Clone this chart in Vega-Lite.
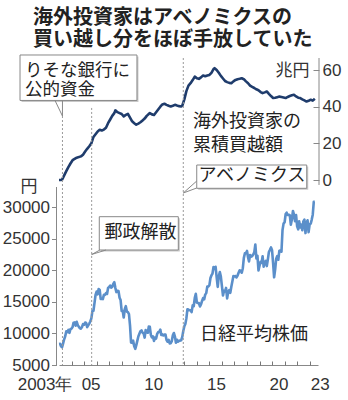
{
  "$schema": "https://vega.github.io/schema/vega-lite/v6.json",
  "width": 259,
  "height": 307,
  "autosize": {"type": "none"},
  "padding": {"left": 59, "top": 58, "right": 30, "bottom": 35},
  "background": "white",
  "data": {"values": [{}]},
  "config": {
    "view": {"stroke": null},
    "font": "Noto Sans CJK JP",
    "axis": {"grid": false, "labelFont": "Liberation Sans", "titleFont": "Noto Sans CJK JP"},
    "axisX": {"labelOverlap": false, "labelFlush": false, "labelBound": false}
  },
  "title": {
    "text": ["海外投資家はアベノミクスの", "買い越し分をほぼ手放していた"],
    "anchor": "start",
    "frame": "group",
    "font": "Noto Sans CJK JP",
    "fontSize": 20,
    "fontWeight": "bold",
    "lineHeight": 22.5,
    "color": "#222",
    "dx": -26,
    "offset": 4
  },
  "datasets": {
    "nikkei": [
      {"date":"2003-01-01","value":8340},{"date":"2003-02-01","value":8360},{"date":"2003-03-01","value":7970},{"date":"2003-04-01","value":7830},{"date":"2003-05-01","value":8420},{"date":"2003-06-01","value":9080},{"date":"2003-07-01","value":9560},{"date":"2003-08-01","value":10340},{"date":"2003-09-01","value":10220},{"date":"2003-10-01","value":10560},{"date":"2003-11-01","value":10100},{"date":"2003-12-01","value":10680},
      {"date":"2004-01-01","value":10780},{"date":"2004-02-01","value":11040},{"date":"2004-03-01","value":11720},{"date":"2004-04-01","value":11760},{"date":"2004-05-01","value":11240},{"date":"2004-06-01","value":11860},{"date":"2004-07-01","value":11330},{"date":"2004-08-01","value":11080},{"date":"2004-09-01","value":10820},{"date":"2004-10-01","value":10770},{"date":"2004-11-01","value":11030},{"date":"2004-12-01","value":11490},
      {"date":"2005-01-01","value":11390},{"date":"2005-02-01","value":11740},{"date":"2005-03-01","value":11670},{"date":"2005-04-01","value":11010},{"date":"2005-05-01","value":11280},{"date":"2005-06-01","value":11580},{"date":"2005-07-01","value":11900},{"date":"2005-08-01","value":12410},{"date":"2005-09-01","value":13570},{"date":"2005-10-01","value":13610},{"date":"2005-11-01","value":14870},{"date":"2005-12-01","value":16110},
      {"date":"2006-01-01","value":16650},{"date":"2006-02-01","value":16210},{"date":"2006-03-01","value":17060},{"date":"2006-04-01","value":16910},{"date":"2006-05-01","value":15470},{"date":"2006-06-01","value":15510},{"date":"2006-07-01","value":15460},{"date":"2006-08-01","value":16140},{"date":"2006-09-01","value":16130},{"date":"2006-10-01","value":16400},{"date":"2006-11-01","value":16270},{"date":"2006-12-01","value":17230},
      {"date":"2007-01-01","value":17380},{"date":"2007-02-01","value":17600},{"date":"2007-03-01","value":17290},{"date":"2007-04-01","value":17400},{"date":"2007-05-01","value":17880},{"date":"2007-06-01","value":18140},{"date":"2007-07-01","value":17250},{"date":"2007-08-01","value":16570},{"date":"2007-09-01","value":16790},{"date":"2007-10-01","value":16740},{"date":"2007-11-01","value":15680},{"date":"2007-12-01","value":15310},
      {"date":"2008-01-01","value":13590},{"date":"2008-02-01","value":13600},{"date":"2008-03-01","value":12530},{"date":"2008-04-01","value":13850},{"date":"2008-05-01","value":14340},{"date":"2008-06-01","value":13480},{"date":"2008-07-01","value":13380},{"date":"2008-08-01","value":13070},{"date":"2008-09-01","value":11260},{"date":"2008-10-01","value":8580},{"date":"2008-11-01","value":8510},{"date":"2008-12-01","value":8860},
      {"date":"2009-01-01","value":7990},{"date":"2009-02-01","value":7570},{"date":"2009-03-01","value":8110},{"date":"2009-04-01","value":8830},{"date":"2009-05-01","value":9520},{"date":"2009-06-01","value":9960},{"date":"2009-07-01","value":10360},{"date":"2009-08-01","value":10490},{"date":"2009-09-01","value":10130},{"date":"2009-10-01","value":10030},{"date":"2009-11-01","value":9350},{"date":"2009-12-01","value":10550},
      {"date":"2010-01-01","value":10200},{"date":"2010-02-01","value":10130},{"date":"2010-03-01","value":11090},{"date":"2010-04-01","value":11060},{"date":"2010-05-01","value":9770},{"date":"2010-06-01","value":9380},{"date":"2010-07-01","value":9540},{"date":"2010-08-01","value":8820},{"date":"2010-09-01","value":9370},{"date":"2010-10-01","value":9200},{"date":"2010-11-01","value":9940},{"date":"2010-12-01","value":10230},
      {"date":"2011-01-01","value":10240},{"date":"2011-02-01","value":10620},{"date":"2011-03-01","value":9760},{"date":"2011-04-01","value":9850},{"date":"2011-05-01","value":9690},{"date":"2011-06-01","value":9820},{"date":"2011-07-01","value":9830},{"date":"2011-08-01","value":8950},{"date":"2011-09-01","value":8700},{"date":"2011-10-01","value":8990},{"date":"2011-11-01","value":8430},{"date":"2011-12-01","value":8460},
      {"date":"2012-01-01","value":8800},{"date":"2012-02-01","value":9720},{"date":"2012-03-01","value":10080},{"date":"2012-04-01","value":9520},{"date":"2012-05-01","value":8540},{"date":"2012-06-01","value":9010},{"date":"2012-07-01","value":8700},{"date":"2012-08-01","value":8840},{"date":"2012-09-01","value":8870},{"date":"2012-10-01","value":8930},{"date":"2012-11-01","value":9450},{"date":"2012-12-01","value":10400},
      {"date":"2013-01-01","value":11140},{"date":"2013-02-01","value":11560},{"date":"2013-03-01","value":12400},{"date":"2013-04-01","value":13860},{"date":"2013-05-01","value":13770},{"date":"2013-06-01","value":13680},{"date":"2013-07-01","value":13670},{"date":"2013-08-01","value":13390},{"date":"2013-09-01","value":14460},{"date":"2013-10-01","value":14330},{"date":"2013-11-01","value":15660},{"date":"2013-12-01","value":16290},
      {"date":"2014-01-01","value":14910},{"date":"2014-02-01","value":14840},{"date":"2014-03-01","value":14830},{"date":"2014-04-01","value":14300},{"date":"2014-05-01","value":14630},{"date":"2014-06-01","value":15160},{"date":"2014-07-01","value":15620},{"date":"2014-08-01","value":15420},{"date":"2014-09-01","value":16170},{"date":"2014-10-01","value":16410},{"date":"2014-11-01","value":17460},{"date":"2014-12-01","value":17450},
      {"date":"2015-01-01","value":17670},{"date":"2015-02-01","value":18800},{"date":"2015-03-01","value":19210},{"date":"2015-04-01","value":19520},{"date":"2015-05-01","value":20560},{"date":"2015-06-01","value":20240},{"date":"2015-07-01","value":20590},{"date":"2015-08-01","value":18890},{"date":"2015-09-01","value":17390},{"date":"2015-10-01","value":19080},{"date":"2015-11-01","value":19750},{"date":"2015-12-01","value":19030},
      {"date":"2016-01-01","value":17520},{"date":"2016-02-01","value":16030},{"date":"2016-03-01","value":16760},{"date":"2016-04-01","value":16670},{"date":"2016-05-01","value":17230},{"date":"2016-06-01","value":15580},{"date":"2016-07-01","value":16570},{"date":"2016-08-01","value":16890},{"date":"2016-09-01","value":16450},{"date":"2016-10-01","value":17430},{"date":"2016-11-01","value":18310},{"date":"2016-12-01","value":19110},
      {"date":"2017-01-01","value":19040},{"date":"2017-02-01","value":19120},{"date":"2017-03-01","value":18910},{"date":"2017-04-01","value":19200},{"date":"2017-05-01","value":19650},{"date":"2017-06-01","value":20030},{"date":"2017-07-01","value":19930},{"date":"2017-08-01","value":19650},{"date":"2017-09-01","value":20360},{"date":"2017-10-01","value":22010},{"date":"2017-11-01","value":22720},{"date":"2017-12-01","value":22760},
      {"date":"2018-01-01","value":23100},{"date":"2018-02-01","value":22070},{"date":"2018-03-01","value":21450},{"date":"2018-04-01","value":22470},{"date":"2018-05-01","value":22200},{"date":"2018-06-01","value":22300},{"date":"2018-07-01","value":22550},{"date":"2018-08-01","value":22870},{"date":"2018-09-01","value":24120},{"date":"2018-10-01","value":21920},{"date":"2018-11-01","value":22350},{"date":"2018-12-01","value":20010},
      {"date":"2019-01-01","value":20770},{"date":"2019-02-01","value":21390},{"date":"2019-03-01","value":21210},{"date":"2019-04-01","value":22260},{"date":"2019-05-01","value":20600},{"date":"2019-06-01","value":21280},{"date":"2019-07-01","value":21520},{"date":"2019-08-01","value":20700},{"date":"2019-09-01","value":21760},{"date":"2019-10-01","value":22930},{"date":"2019-11-01","value":23290},{"date":"2019-12-01","value":23660},
      {"date":"2020-01-01","value":23210},{"date":"2020-02-01","value":21140},{"date":"2020-03-01","value":18920},{"date":"2020-04-01","value":20190},{"date":"2020-05-01","value":21880},{"date":"2020-06-01","value":22290},{"date":"2020-07-01","value":21710},{"date":"2020-08-01","value":23140},{"date":"2020-09-01","value":23190},{"date":"2020-10-01","value":22980},{"date":"2020-11-01","value":26430},{"date":"2020-12-01","value":27440},
      {"date":"2021-01-01","value":27660},{"date":"2021-02-01","value":28970},{"date":"2021-03-01","value":29180},{"date":"2021-04-01","value":28810},{"date":"2021-05-01","value":28860},{"date":"2021-06-01","value":28790},{"date":"2021-07-01","value":27280},{"date":"2021-08-01","value":28090},{"date":"2021-09-01","value":29450},{"date":"2021-10-01","value":28890},{"date":"2021-11-01","value":27820},{"date":"2021-12-01","value":28790},
      {"date":"2022-01-01","value":27000},{"date":"2022-02-01","value":26530},{"date":"2022-03-01","value":27820},{"date":"2022-04-01","value":26850},{"date":"2022-05-01","value":27280},{"date":"2022-06-01","value":26390},{"date":"2022-07-01","value":27800},{"date":"2022-08-01","value":28090},{"date":"2022-09-01","value":25940},{"date":"2022-10-01","value":27590},{"date":"2022-11-01","value":27970},{"date":"2022-12-01","value":26090},
      {"date":"2023-01-01","value":27330},{"date":"2023-02-01","value":27450},{"date":"2023-03-01","value":28040},{"date":"2023-04-01","value":28860},{"date":"2023-05-01","value":30890},{"date":"2023-06-01","value":30900}
    ],
    "foreign": [
      {"date":"2003-01-01","value":0},{"date":"2003-03-01","value":0},{"date":"2003-04-01","value":0.2},{"date":"2003-06-01","value":2.5},{"date":"2003-08-01","value":4.8},{"date":"2003-10-01","value":7},{"date":"2003-12-01","value":9},
      {"date":"2004-02-01","value":10.8},{"date":"2004-04-01","value":11.5},{"date":"2004-06-01","value":12.2},{"date":"2004-08-01","value":12.5},{"date":"2004-10-01","value":12.9},{"date":"2004-12-01","value":13.8},
      {"date":"2005-02-01","value":15.5},{"date":"2005-04-01","value":17},{"date":"2005-06-01","value":18.4},{"date":"2005-08-01","value":20},{"date":"2005-10-01","value":23.5},{"date":"2005-12-01","value":25},
      {"date":"2006-02-01","value":26.5},{"date":"2006-04-01","value":27.4},{"date":"2006-06-01","value":27},{"date":"2006-08-01","value":27.5},{"date":"2006-10-01","value":28.5},{"date":"2006-12-01","value":31},
      {"date":"2007-02-01","value":33},{"date":"2007-04-01","value":35},{"date":"2007-06-01","value":36.5},{"date":"2007-07-01","value":38},{"date":"2007-09-01","value":37},{"date":"2007-11-01","value":36.5},
      {"date":"2008-01-01","value":36},{"date":"2008-03-01","value":34.7},{"date":"2008-05-01","value":35.5},{"date":"2008-07-01","value":36.1},{"date":"2008-09-01","value":34},{"date":"2008-11-01","value":32},
      {"date":"2009-01-01","value":31},{"date":"2009-03-01","value":30.2},{"date":"2009-05-01","value":30.8},{"date":"2009-07-01","value":31.5},{"date":"2009-09-01","value":32.5},{"date":"2009-11-01","value":33.5},
      {"date":"2010-01-01","value":35},{"date":"2010-03-01","value":36},{"date":"2010-04-01","value":36.5},{"date":"2010-06-01","value":35.8},{"date":"2010-08-01","value":35.5},{"date":"2010-10-01","value":37},{"date":"2010-12-01","value":38.5},
      {"date":"2011-02-01","value":40},{"date":"2011-04-01","value":41.2},{"date":"2011-06-01","value":41.6},{"date":"2011-08-01","value":41},{"date":"2011-10-01","value":40.5},{"date":"2011-12-01","value":40.1},
      {"date":"2012-02-01","value":40.5},{"date":"2012-04-01","value":41},{"date":"2012-06-01","value":40.6},{"date":"2012-08-01","value":40.3},{"date":"2012-10-01","value":40.1},{"date":"2012-11-01","value":40.5},
      {"date":"2013-01-01","value":44},{"date":"2013-03-01","value":48.5},{"date":"2013-05-01","value":51.5},{"date":"2013-07-01","value":52.8},{"date":"2013-09-01","value":54.5},{"date":"2013-11-01","value":56.4},
      {"date":"2014-01-01","value":55.5},{"date":"2014-03-01","value":55.2},{"date":"2014-05-01","value":56},{"date":"2014-07-01","value":57},{"date":"2014-09-01","value":56.6},{"date":"2014-11-01","value":57},
      {"date":"2015-01-01","value":57.3},{"date":"2015-03-01","value":58.5},{"date":"2015-05-01","value":60.5},{"date":"2015-06-01","value":61},{"date":"2015-08-01","value":60},{"date":"2015-10-01","value":58.5},{"date":"2015-12-01","value":56.8},
      {"date":"2016-02-01","value":55.4},{"date":"2016-04-01","value":54},{"date":"2016-06-01","value":53.4},{"date":"2016-08-01","value":53},{"date":"2016-10-01","value":52.8},{"date":"2016-12-01","value":53.8},
      {"date":"2017-02-01","value":54.6},{"date":"2017-04-01","value":55},{"date":"2017-06-01","value":55.2},{"date":"2017-08-01","value":55.5},{"date":"2017-10-01","value":55},{"date":"2017-12-01","value":53.8},
      {"date":"2018-02-01","value":52.8},{"date":"2018-04-01","value":51.5},{"date":"2018-06-01","value":50.8},{"date":"2018-08-01","value":50.2},{"date":"2018-10-01","value":49.5},{"date":"2018-12-01","value":49},
      {"date":"2019-02-01","value":48},{"date":"2019-04-01","value":47.4},{"date":"2019-06-01","value":47.8},{"date":"2019-08-01","value":48.3},{"date":"2019-10-01","value":47},{"date":"2019-12-01","value":45.8},
      {"date":"2020-02-01","value":44.7},{"date":"2020-04-01","value":44.9},{"date":"2020-06-01","value":45.2},{"date":"2020-08-01","value":45.5},{"date":"2020-10-01","value":45.3},{"date":"2020-12-01","value":45},
      {"date":"2021-02-01","value":44.7},{"date":"2021-04-01","value":45.3},{"date":"2021-06-01","value":45.8},{"date":"2021-08-01","value":46.2},{"date":"2021-10-01","value":46.5},{"date":"2021-12-01","value":45.6},
      {"date":"2022-02-01","value":44.9},{"date":"2022-04-01","value":44.7},{"date":"2022-06-01","value":44},{"date":"2022-08-01","value":43.4},{"date":"2022-10-01","value":42.8},{"date":"2022-12-01","value":43.2},
      {"date":"2023-02-01","value":43.8},{"date":"2023-04-01","value":43.3},{"date":"2023-06-01","value":44.3}
    ]
  },
  "layer": [
    {
      "data": {"name": "nikkei"},
      "mark": {"type": "line", "color": "#5b8fca", "strokeWidth": 2.6, "strokeJoin": "round"},
      "encoding": {
        "x": {
          "field": "date", "type": "temporal",
          "scale": {"domain": [{"year": 2003, "month": 1, "date": 1}, {"year": 2023, "month": 9, "date": 1}]},
          "axis": {
            "orient": "bottom",
            "title": null,
            "values": [{"year":2003},{"year":2005},{"year":2010},{"year":2015},{"year":2020},{"year":2023}],
            "labelExpr": "year(datum.value) == 2003 ? '2003年' : timeFormat(datum.value, '%y')",
            "labelAlign": {"condition": {"test": "year(datum.value) == 2003", "value": "right"}, "value": "center"},
            "labelOffset": {"condition": [{"test": "year(datum.value) == 2003", "value": 13}, {"test": "year(datum.value) == 2023", "value": 10}], "value": 6.5},
            "labelFlush": false,
            "labelOverlap": false,
            "labelBound": false,
            "labelFontSize": 17,
            "labelColor": "#333",
            "labelPadding": 11,
            "labelBaseline": "top",
            "ticks": false,
            "domainColor": "#888",
            "grid": false
          }
        },
        "y": {
          "field": "value", "type": "quantitative",
          "scale": {"domain": [5000, 53730]},
          "axis": {
            "orient": "left",
            "values": [5000, 10000, 15000, 20000, 25000, 30000],
            "format": "d",
            "domain": false,
            "tickSize": 5,
            "tickColor": "#888",
            "labelFontSize": 17,
            "labelColor": "#333",
            "labelPadding": 2,
            "offset": 2.5,
            "grid": false,
            "title": "円",
            "titleAngle": 0,
            "titleX": -28,
            "titleY": 128,
            "titleAlign": "center",
            "titleBaseline": "middle",
            "titleFontSize": 17,
            "titleFontWeight": "normal",
            "titleColor": "#333"
          }
        }
      }
    },
    {
      "data": {"name": "foreign"},
      "mark": {"type": "line", "color": "#1f3c6c", "strokeWidth": 2.6, "strokeJoin": "round"},
      "encoding": {
        "x": {
          "field": "date", "type": "temporal",
          "axis": {
            "orient": "bottom",
            "title": null,
            "values": [{"year":2004},{"year":2005},{"year":2006},{"year":2007},{"year":2008},{"year":2009},{"year":2010},{"year":2011},{"year":2012},{"year":2013},{"year":2014},{"year":2015},{"year":2016},{"year":2017},{"year":2018},{"year":2019},{"year":2020},{"year":2021},{"year":2022},{"year":2023}],
            "labels": false,
            "domain": false,
            "ticks": true,
            "tickSize": -4,
            "tickColor": "#777",
            "tickWidth": 1,
            "grid": false
          }
        },
        "y": {
          "field": "value", "type": "quantitative",
          "scale": {"domain": [-100.93, 66.56]},
          "axis": {
            "orient": "right",
            "values": [0, 20, 40, 60],
            "domain": false,
            "tickSize": -6,
            "tickColor": "#888",
            "labelFontSize": 17,
            "labelColor": "#333",
            "labelPadding": 9,
            "offset": 1,
            "grid": false,
            "title": "兆円",
            "titleAngle": 0,
            "titleX": -27,
            "titleY": 12,
            "titleAlign": "center",
            "titleBaseline": "middle",
            "titleFontSize": 17,
            "titleFontWeight": "normal",
            "titleColor": "#333"
          }
        }
      }
    },
    {
      "mark": {"type": "rule", "color": "#999", "strokeDash": [2, 2], "strokeWidth": 1},
      "encoding": {
        "x": {"datum": {"year": 2003, "month": 4, "date": 12}, "type": "temporal", "axis": null},
        "y": {"datum": 34.9, "type": "quantitative", "scale": {"domain": [-100.93, 66.56]}, "axis": null},
        "y2": {"datum": -100.93}
      }
    },
    {
      "mark": {"type": "rule", "color": "#999", "strokeDash": [2, 2], "strokeWidth": 1},
      "encoding": {
        "x": {"datum": {"year": 2005, "month": 8, "date": 10}, "type": "temporal", "axis": null},
        "y": {"datum": 39.3, "type": "quantitative", "scale": {"domain": [-100.93, 66.56]}, "axis": null},
        "y2": {"datum": -100.93}
      }
    },
    {
      "mark": {"type": "rule", "color": "#999", "strokeDash": [2, 2], "strokeWidth": 1},
      "encoding": {
        "x": {"datum": {"year": 2012, "month": 12, "date": 1}, "type": "temporal", "axis": null},
        "y": {"datum": 66.56, "type": "quantitative", "scale": {"domain": [-100.93, 66.56]}, "axis": null},
        "y2": {"datum": -100.93}
      }
    },
    {
      "mark": {"type": "rule", "color": "#888", "strokeWidth": 1, "xOffset": -2.5},
      "encoding": {
        "x": {"datum": {"year": 2003, "month": 1, "date": 1}, "type": "temporal", "axis": null},
        "y": {"datum": 5000, "type": "quantitative", "scale": {"domain": [5000, 53730]}, "axis": null},
        "y2": {"datum": 33254}
      }
    },
    {
      "mark": {"type": "rule", "color": "#888", "strokeWidth": 1, "xOffset": 1},
      "encoding": {
        "x": {"datum": {"year": 2023, "month": 9, "date": 1}, "type": "temporal", "axis": null},
        "y": {"datum": -2.7, "type": "quantitative", "scale": {"domain": [-100.93, 66.56]}, "axis": null},
        "y2": {"datum": 66.56}
      }
    },
    {
      "mark": {"type": "rect", "fill": "#c8c8c8", "xOffset": 1.5, "x2Offset": 1.5, "yOffset": 1.5, "y2Offset": 1.5},
      "encoding": {
        "x": {"datum": {"year": 1999, "month": 11, "date": 22}, "type": "temporal", "axis": null},
        "x2": {"datum": {"year": 2009, "month": 3, "date": 22}},
        "y": {"datum": 68.2, "type": "quantitative", "scale": {"domain": [-100.93, 66.56]}, "axis": null},
        "y2": {"datum": 43.4}
      }
    },
    {
      "mark": {"type": "rect", "fill": "white", "stroke": "#888", "strokeWidth": 1},
      "encoding": {
        "x": {"datum": {"year": 1999, "month": 11, "date": 22}, "type": "temporal", "axis": null},
        "x2": {"datum": {"year": 2009, "month": 3, "date": 22}},
        "y": {"datum": 68.2, "type": "quantitative", "scale": {"domain": [-100.93, 66.56]}, "axis": null},
        "y2": {"datum": 43.4}
      }
    },
    {
      "mark": {"type": "rule", "color": "#888", "strokeWidth": 1},
      "encoding": {
        "x": {"datum": {"year": 2002, "month": 9, "date": 6}, "type": "temporal", "axis": null},
        "x2": {"datum": {"year": 2003, "month": 4, "date": 12}},
        "y": {"datum": 43.4, "type": "quantitative", "scale": {"domain": [-100.93, 66.56]}, "axis": null},
        "y2": {"datum": 34.9}
      }
    },
    {
      "mark": {"type": "rule", "color": "#888", "strokeWidth": 1},
      "encoding": {
        "x": {"datum": {"year": 2003, "month": 4, "date": 12}, "type": "temporal", "axis": null},
        "x2": {"datum": {"year": 2003, "month": 4, "date": 12}},
        "y": {"datum": 43.4, "type": "quantitative", "scale": {"domain": [-100.93, 66.56]}, "axis": null},
        "y2": {"datum": 34.9}
      }
    },
    {
      "mark": {"type": "text", "align": "left", "baseline": "top", "fontSize": 17.5, "lineHeight": 19, "color": "#222"},
      "encoding": {
        "x": {"datum": {"year": 2000, "month": 4, "date": 15}, "type": "temporal", "axis": null},
        "y": {"datum": 64.6, "type": "quantitative", "scale": {"domain": [-100.93, 66.56]}, "axis": null},
        "text": {"value": ["りそな銀行に", "公的資金"]}
      }
    },
    {
      "mark": {"type": "rect", "fill": "#c8c8c8", "xOffset": 1.5, "x2Offset": 1.5, "yOffset": 1.5, "y2Offset": 1.5},
      "encoding": {
        "x": {"datum": {"year": 2006, "month": 3, "date": 20}, "type": "temporal", "axis": null},
        "x2": {"datum": {"year": 2012, "month": 7, "date": 9}},
        "y": {"datum": 28540, "type": "quantitative", "scale": {"domain": [5000, 53730]}, "axis": null},
        "y2": {"datum": 23254}
      }
    },
    {
      "mark": {"type": "rect", "fill": "white", "stroke": "#888", "strokeWidth": 1},
      "encoding": {
        "x": {"datum": {"year": 2006, "month": 3, "date": 20}, "type": "temporal", "axis": null},
        "x2": {"datum": {"year": 2012, "month": 7, "date": 9}},
        "y": {"datum": 28540, "type": "quantitative", "scale": {"domain": [5000, 53730]}, "axis": null},
        "y2": {"datum": 23254}
      }
    },
    {
      "mark": {"type": "rule", "color": "#888", "strokeWidth": 1},
      "encoding": {
        "x": {"datum": {"year": 2006, "month": 4, "date": 8}, "type": "temporal", "axis": null},
        "x2": {"datum": {"year": 2005, "month": 8, "date": 10}},
        "y": {"datum": 23254, "type": "quantitative", "scale": {"domain": [5000, 53730]}, "axis": null},
        "y2": {"datum": 22540}
      }
    },
    {
      "mark": {"type": "rule", "color": "#888", "strokeWidth": 1},
      "encoding": {
        "x": {"datum": {"year": 2006, "month": 10, "date": 1}, "type": "temporal", "axis": null},
        "x2": {"datum": {"year": 2005, "month": 8, "date": 10}},
        "y": {"datum": 23254, "type": "quantitative", "scale": {"domain": [5000, 53730]}, "axis": null},
        "y2": {"datum": 22540}
      }
    },
    {
      "mark": {"type": "text", "align": "center", "baseline": "middle", "fontSize": 18, "color": "#222"},
      "encoding": {
        "x": {"datum": {"year": 2009, "month": 7, "date": 2}, "type": "temporal", "axis": null},
        "y": {"datum": 25873, "type": "quantitative", "scale": {"domain": [5000, 53730]}, "axis": null},
        "text": {"value": "郵政解散"}
      }
    },
    {
      "mark": {"type": "rect", "fill": "#c8c8c8", "xOffset": 1.5, "x2Offset": 1.5, "yOffset": 1.5, "y2Offset": 1.5},
      "encoding": {
        "x": {"datum": {"year": 2013, "month": 12, "date": 28}, "type": "temporal", "axis": null},
        "x2": {"datum": {"year": 2022, "month": 10, "date": 8}},
        "y": {"datum": 8.18, "type": "quantitative", "scale": {"domain": [-100.93, 66.56]}, "axis": null},
        "y2": {"datum": -4.53}
      }
    },
    {
      "mark": {"type": "rect", "fill": "white", "stroke": "#888", "strokeWidth": 1},
      "encoding": {
        "x": {"datum": {"year": 2013, "month": 12, "date": 28}, "type": "temporal", "axis": null},
        "x2": {"datum": {"year": 2022, "month": 10, "date": 8}},
        "y": {"datum": 8.18, "type": "quantitative", "scale": {"domain": [-100.93, 66.56]}, "axis": null},
        "y2": {"datum": -4.53}
      }
    },
    {
      "mark": {"type": "rule", "color": "#888", "strokeWidth": 1},
      "encoding": {
        "x": {"datum": {"year": 2013, "month": 12, "date": 28}, "type": "temporal", "axis": null},
        "x2": {"datum": {"year": 2012, "month": 12, "date": 1}},
        "y": {"datum": -0.55, "type": "quantitative", "scale": {"domain": [-100.93, 66.56]}, "axis": null},
        "y2": {"datum": -7.09}
      }
    },
    {
      "mark": {"type": "rule", "color": "#888", "strokeWidth": 1},
      "encoding": {
        "x": {"datum": {"year": 2013, "month": 12, "date": 28}, "type": "temporal", "axis": null},
        "x2": {"datum": {"year": 2012, "month": 12, "date": 1}},
        "y": {"datum": -4.36, "type": "quantitative", "scale": {"domain": [-100.93, 66.56]}, "axis": null},
        "y2": {"datum": -7.09}
      }
    },
    {
      "mark": {"type": "text", "align": "center", "baseline": "middle", "fontSize": 18, "color": "#222"},
      "encoding": {
        "x": {"datum": {"year": 2018, "month": 5, "date": 27}, "type": "temporal", "axis": null},
        "y": {"datum": 1.91, "type": "quantitative", "scale": {"domain": [-100.93, 66.56]}, "axis": null},
        "text": {"value": "アベノミクス"}
      }
    },
    {
      "mark": {"type": "text", "align": "left", "baseline": "top", "fontSize": 18, "lineHeight": 24, "color": "#222"},
      "encoding": {
        "x": {"datum": {"year": 2013, "month": 9, "date": 10}, "type": "temporal", "axis": null},
        "y": {"datum": 36.8, "type": "quantitative", "scale": {"domain": [-100.93, 66.56]}, "axis": null},
        "text": {"value": ["海外投資家の", "累積買越額"]}
      }
    },
    {
      "mark": {"type": "text", "align": "left", "baseline": "middle", "fontSize": 18, "color": "#222"},
      "encoding": {
        "x": {"datum": {"year": 2014, "month": 4, "date": 1}, "type": "temporal", "axis": null},
        "y": {"datum": 9683, "type": "quantitative", "scale": {"domain": [5000, 53730]}, "axis": null},
        "text": {"value": "日経平均株価"}
      }
    }
  ],
  "resolve": {"scale": {"y": "independent"}, "axis": {"y": "independent", "x": "independent"}}
}
